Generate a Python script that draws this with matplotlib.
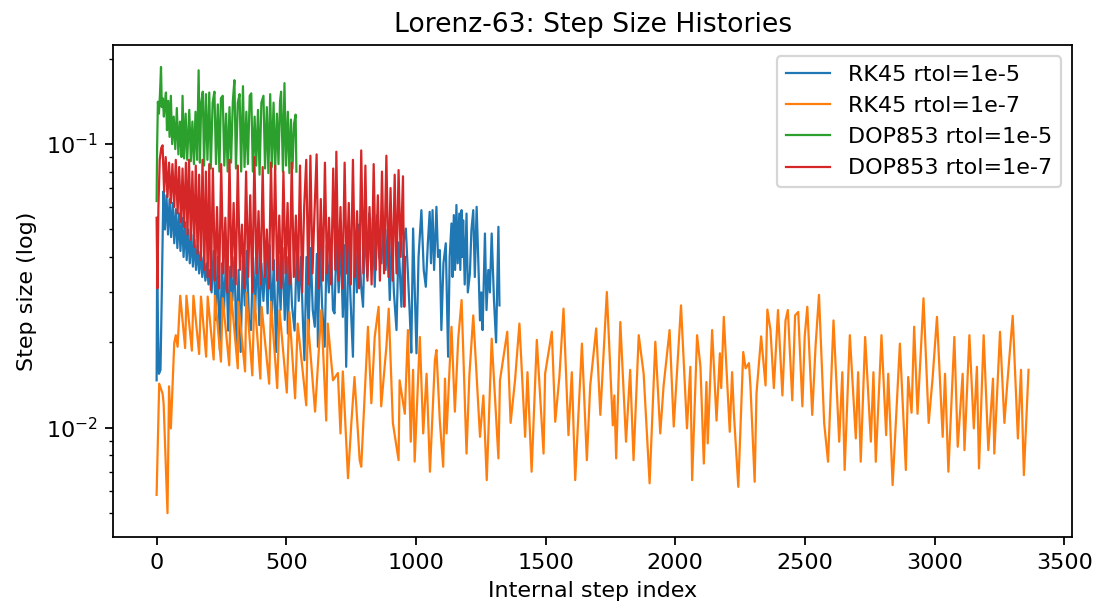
import matplotlib
matplotlib.use("Agg")
import matplotlib.pyplot as plt

# ---- data ----
labels = ["RK45 rtol=1e-5", "RK45 rtol=1e-7", "DOP853 rtol=1e-5", "DOP853 rtol=1e-7"]
colors = ["#1f77b4", "#ff7f0e", "#2ca02c", "#d62728"]

rk45_5_idx = [0, 2, 5, 9, 15, 20, 26, 32, 38, 44, 50, 56, 62, 68, 74, 80, 86, 92, 98, 104, 110, 116, 122, 128,
              134, 140, 146, 152, 158, 164, 170, 176, 182, 188, 194, 200, 206, 212,
              220, 228, 236, 244, 252, 260, 268, 276, 284, 292, 300, 308, 316, 324, 332, 340, 348, 356, 364,
              372, 380, 388, 396, 404, 412, 420, 428, 436, 444, 452, 461, 470, 478, 486, 494, 502, 506, 514,
              522, 532, 540, 548, 556, 564, 570, 578, 586, 594, 602, 610, 618, 622, 630, 638, 648, 656, 664,
              672, 680, 686, 694, 702, 710, 718, 724, 731, 740, 748, 757, 764, 772, 780, 788, 796, 804, 812,
              820, 828, 834, 841, 850, 858, 867, 875, 883, 891, 899, 907, 915, 925, 933, 944, 952, 961,
              976, 982, 989, 1002, 1010, 1021, 1030, 1038, 1046, 1053, 1058, 1064, 1070, 1079, 1085, 1092,
              1098, 1106, 1115, 1124, 1130, 1137, 1141, 1146, 1151, 1156, 1161, 1167, 1171, 1176, 1179, 1182,
              1188, 1195, 1200, 1208, 1214, 1221, 1227, 1234, 1240, 1247, 1252, 1257, 1266, 1272, 1279, 1285,
              1292, 1301, 1309, 1318, 1322]
rk45_5_val = [0.0147, 0.037, 0.024, 0.0155, 0.016, 0.030, 0.068, 0.050, 0.066, 0.048, 0.064, 0.047, 0.062,
              0.0447, 0.059, 0.043, 0.057, 0.042, 0.055, 0.040, 0.053, 0.039, 0.050, 0.038, 0.048, 0.037, 0.046,
              0.036, 0.044, 0.035, 0.042, 0.034, 0.040, 0.033, 0.038, 0.032, 0.036, 0.030,
              0.042, 0.024, 0.040, 0.0188, 0.038, 0.026, 0.041, 0.022, 0.037, 0.028, 0.040, 0.0193, 0.036, 0.0185,
              0.039, 0.027, 0.042, 0.024, 0.0221, 0.040, 0.026, 0.043, 0.023, 0.038, 0.028, 0.041, 0.0253, 0.044,
              0.024, 0.039, 0.0185, 0.040, 0.026, 0.043, 0.024, 0.040, 0.0215, 0.041, 0.027, 0.022, 0.042, 0.028,
              0.040, 0.024, 0.0173, 0.040, 0.022, 0.043, 0.026, 0.0227, 0.041, 0.0193, 0.045, 0.027, 0.0193, 0.044,
              0.030, 0.046, 0.026, 0.0253, 0.048, 0.030, 0.046, 0.0246, 0.044, 0.0164, 0.045, 0.028, 0.0178, 0.048,
              0.030, 0.052, 0.032, 0.0267, 0.055, 0.034, 0.057, 0.036, 0.055, 0.0314, 0.056, 0.040, 0.038, 0.054,
              0.036, 0.050, 0.0282, 0.048, 0.030, 0.0221, 0.045, 0.0267, 0.045, 0.0504,
              0.0253, 0.0184, 0.0504, 0.0183, 0.040, 0.0585, 0.036, 0.0314, 0.045, 0.0577, 0.038, 0.0585, 0.036,
              0.0601, 0.040, 0.0423, 0.0221, 0.038, 0.0447, 0.0178, 0.040, 0.0525, 0.034, 0.0562, 0.036, 0.061,
              0.038, 0.0569, 0.036, 0.0585, 0.040, 0.0539, 0.032, 0.0569, 0.030, 0.035, 0.050, 0.0585, 0.034,
              0.0601, 0.040, 0.0239, 0.030, 0.0221, 0.0484, 0.026, 0.036, 0.030, 0.0484, 0.028, 0.020, 0.0511,
              0.027]

rk45_7_idx = [0, 10, 23, 27, 42, 48, 55, 68, 74, 81, 91, 110, 115, 136, 142, 164, 171, 191, 197, 220, 225,
              248, 255, 280, 287, 313, 315, 341, 346, 369, 377, 400, 405, 434, 441, 465, 474, 502, 512, 534,
              544, 577, 583, 611, 635, 654, 660, 680, 699, 709, 718, 738, 750, 763, 783, 789, 815, 828, 841,
              856, 866, 886, 895, 911, 933, 937, 957, 969, 980, 989, 995,
              1015, 1028, 1041, 1054, 1073, 1079, 1092, 1105, 1112, 1118, 1137, 1150, 1163, 1176, 1195, 1206,
              1221, 1247, 1260, 1273, 1292, 1318, 1324, 1352, 1365, 1382, 1399, 1421, 1430, 1446, 1466, 1492,
              1498, 1524, 1537, 1553, 1569, 1588, 1601, 1614, 1640, 1659, 1672, 1695, 1711, 1723, 1736, 1759,
              1765, 1772, 1788, 1810, 1826, 1839, 1859, 1878, 1901, 1923, 1942, 1955, 1978, 1994, 2022, 2045,
              2058, 2065, 2084,
              2097, 2110, 2120, 2125, 2142, 2159, 2172, 2177, 2187, 2210, 2219, 2226, 2243, 2262, 2271, 2284,
              2290, 2306, 2313, 2331, 2348, 2355, 2367, 2380, 2396, 2413, 2425, 2434, 2451, 2462, 2474, 2490,
              2499, 2509, 2528, 2541, 2554, 2574, 2589, 2610, 2632, 2644, 2653, 2673, 2696, 2705, 2715, 2732,
              2754, 2764, 2773, 2795, 2813, 2821, 2838, 2866, 2889, 2898, 2911, 2921, 2934, 2947, 2957, 2977,
              2992, 3009, 3031, 3040, 3053, 3076, 3089, 3108, 3115, 3134, 3151, 3163, 3171, 3189, 3207, 3225,
              3230, 3252, 3269, 3279, 3301, 3321, 3333, 3344, 3362]
rk45_7_val = [0.0058, 0.0143, 0.0132, 0.0122, 0.0050, 0.0140, 0.00995, 0.0199, 0.0212, 0.0193, 0.0292,
              0.0191, 0.0292, 0.0187, 0.0292, 0.0182, 0.0290, 0.0178, 0.0290, 0.0174, 0.0292, 0.0171, 0.0286,
              0.0166, 0.0299, 0.0162, 0.0278, 0.0158, 0.0299, 0.0153, 0.0292, 0.0149, 0.0267, 0.0143, 0.0278,
              0.0138, 0.0260, 0.0133, 0.0256, 0.0127, 0.0233, 0.0120, 0.0240, 0.0114, 0.0260, 0.0106, 0.0233,
              0.0147, 0.0156, 0.00955, 0.0158, 0.00664, 0.0101, 0.0151, 0.00769, 0.00729, 0.0227, 0.0122, 0.0209,
              0.0267, 0.0119, 0.0193, 0.0263, 0.0104, 0.00769, 0.0147, 0.0112, 0.0221, 0.00893, 0.0160, 0.00760,
              0.0209, 0.00955, 0.0155, 0.0070, 0.0173, 0.0188, 0.0106, 0.00729, 0.0149, 0.00955, 0.0227, 0.0114,
              0.0206, 0.0282, 0.00811, 0.0153, 0.0249, 0.00929, 0.0130, 0.00654, 0.0206, 0.00780, 0.0147, 0.0218,
              0.0104, 0.0147, 0.0233, 0.00929, 0.0157, 0.0070, 0.0204, 0.00811, 0.0155, 0.0218, 0.0105, 0.0151,
              0.0263, 0.00942, 0.0157, 0.00654, 0.0198, 0.00769, 0.0141, 0.0224, 0.0111, 0.0178, 0.0301, 0.0102,
              0.0130, 0.00780, 0.0236, 0.00893, 0.0160, 0.00769, 0.0212, 0.0155, 0.00637, 0.0201, 0.00955, 0.0141,
              0.0221, 0.0101, 0.0270, 0.00995, 0.0164, 0.00654, 0.0212,
              0.0164, 0.00748, 0.0145, 0.00881, 0.0221, 0.0106, 0.0183, 0.0138, 0.0246, 0.00968, 0.0157, 0.0112,
              0.00619, 0.0185, 0.0162, 0.0169, 0.0139, 0.00645, 0.0132, 0.0210, 0.0141, 0.0261, 0.0221, 0.0138,
              0.0260, 0.0130, 0.0239, 0.0260, 0.0125, 0.0249, 0.0256, 0.0119, 0.0210, 0.0267, 0.0111, 0.0195,
              0.0294, 0.0104, 0.00759, 0.0239, 0.00893, 0.0157, 0.00710, 0.0212, 0.00917, 0.0157, 0.00759, 0.0209,
              0.00893, 0.0157, 0.00759, 0.0212, 0.00942, 0.0155, 0.00628, 0.0198, 0.00710, 0.0151, 0.0113, 0.0227,
              0.0112, 0.0188, 0.0286, 0.0104, 0.0149, 0.0246, 0.00929, 0.0155, 0.00700, 0.0209, 0.00857, 0.0155,
              0.00834, 0.0212, 0.00995, 0.0164, 0.00719, 0.0212, 0.00834, 0.0149, 0.00811, 0.0218, 0.0104, 0.0139,
              0.0248, 0.00917, 0.0160, 0.00681, 0.0160]

dop_5_idx = [0, 2, 5, 9, 13, 17, 20, 24, 28, 32, 36, 40, 45, 50, 55, 60, 66, 72, 78, 84, 90, 96, 100, 106,
             112, 118, 126, 132, 138, 144, 150, 156, 162, 167, 172, 178, 183, 190, 196, 203, 209, 216, 223,
             229, 236, 242, 248, 255, 261, 268, 274, 281, 287, 294, 300, 306, 313, 320, 326, 333, 339, 346,
             352, 359, 365, 371, 378, 384, 391, 397, 404, 412, 418, 425, 431, 438, 444, 451, 457, 464, 470,
             476, 480, 487, 493, 499, 506, 512, 518, 524, 530, 536, 539]
dop_5_val = [0.063, 0.098, 0.141, 0.128, 0.150, 0.187, 0.135, 0.145, 0.125, 0.140, 0.152, 0.112, 0.142,
             0.106, 0.148, 0.100, 0.125, 0.096, 0.134, 0.092, 0.120, 0.090, 0.148, 0.089, 0.128, 0.088, 0.132,
             0.087, 0.120, 0.085, 0.130, 0.088, 0.182, 0.086, 0.140, 0.153, 0.084, 0.150, 0.088, 0.152, 0.082,
             0.140, 0.153, 0.085, 0.138, 0.080, 0.145, 0.148, 0.084, 0.128, 0.080, 0.135, 0.086, 0.142, 0.168,
             0.082, 0.140, 0.150, 0.080, 0.160, 0.083, 0.130, 0.085, 0.148, 0.151, 0.080, 0.125, 0.084, 0.132,
             0.078, 0.140, 0.148, 0.082, 0.135, 0.079, 0.150, 0.083, 0.140, 0.081, 0.128, 0.085, 0.142, 0.153,
             0.080, 0.164, 0.084, 0.130, 0.079, 0.122, 0.082, 0.118, 0.127, 0.080]

dop_7_idx = [0, 3, 7, 12, 18, 23, 29, 35, 42, 48, 55, 61, 68, 74, 81, 87, 94, 100, 106, 113, 119, 125, 132,
             138, 145, 151, 158, 164, 171, 177, 184, 190, 197, 203, 209,
             217, 225, 233, 241, 249, 257, 265, 273, 281, 289, 297, 305, 313, 321, 329, 337, 345, 353, 361,
             369, 377, 385, 393, 401, 409, 417, 425, 433, 441, 449, 457, 465, 473, 481, 489, 497, 505, 513,
             521, 529, 537, 545, 553, 561, 569, 577, 585, 593, 601, 609, 617, 625, 633, 641, 649, 657, 665,
             673, 681, 689, 693, 701, 709, 717, 725, 733, 741, 749, 757, 765, 773, 781, 789, 797, 805, 813,
             821, 829, 837, 845, 853, 861, 869, 877, 886, 894, 902, 910, 918, 925, 933, 941, 950, 955, 958]
dop_7_val = [0.055, 0.031, 0.060, 0.088, 0.097, 0.099, 0.068, 0.090, 0.065, 0.086, 0.062, 0.085, 0.060,
             0.088, 0.057, 0.083, 0.053, 0.082, 0.051, 0.086, 0.048, 0.088, 0.046, 0.080, 0.0434, 0.084, 0.041,
             0.078, 0.039, 0.088, 0.036, 0.080, 0.034, 0.085, 0.0306,
             0.082, 0.033, 0.060, 0.031, 0.085, 0.035, 0.055, 0.030, 0.088, 0.034, 0.062, 0.032, 0.084, 0.036,
             0.052, 0.031, 0.080, 0.034, 0.066, 0.030, 0.090, 0.035, 0.058, 0.032, 0.083, 0.034, 0.050, 0.031,
             0.086, 0.036, 0.084, 0.033, 0.056, 0.031, 0.080, 0.035, 0.062, 0.032, 0.086, 0.034, 0.056, 0.033,
             0.084, 0.030, 0.060, 0.088, 0.032, 0.091, 0.035, 0.058, 0.092, 0.031, 0.064, 0.033, 0.086, 0.035,
             0.055, 0.032, 0.082, 0.036, 0.094, 0.033, 0.060, 0.031, 0.086, 0.035, 0.062, 0.032, 0.088, 0.034,
             0.058, 0.031, 0.095, 0.035, 0.084, 0.033, 0.060, 0.032, 0.085, 0.036, 0.066, 0.033, 0.080, 0.035,
             0.091, 0.034, 0.070, 0.033, 0.078, 0.035, 0.081, 0.040, 0.077, 0.0267, 0.040]

series_idx = [rk45_5_idx, rk45_7_idx, dop_5_idx, dop_7_idx]
series_val = [rk45_5_val, rk45_7_val, dop_5_val, dop_7_val]

# ---- figure ----
DPI = 160
fig = plt.figure(figsize=(1094 / DPI, 604 / DPI), dpi=DPI)
ax = fig.add_axes([0.1033, 0.1109, 0.8767, 0.8146])
for xs, ys, lab, col in zip(series_idx, series_val, labels, colors):
    ax.plot(xs, ys, color=col, label=lab, lw=1.0)
ax.set_yscale("log")
ax.set_ylim(0.00412, 0.2235)
ax.set_title("Lorenz-63: Step Size Histories")
ax.set_xlabel("Internal step index")
ax.set_ylabel("Step size (log)")
ax.legend(loc="upper right")
fig.savefig("out.png", dpi=DPI)
